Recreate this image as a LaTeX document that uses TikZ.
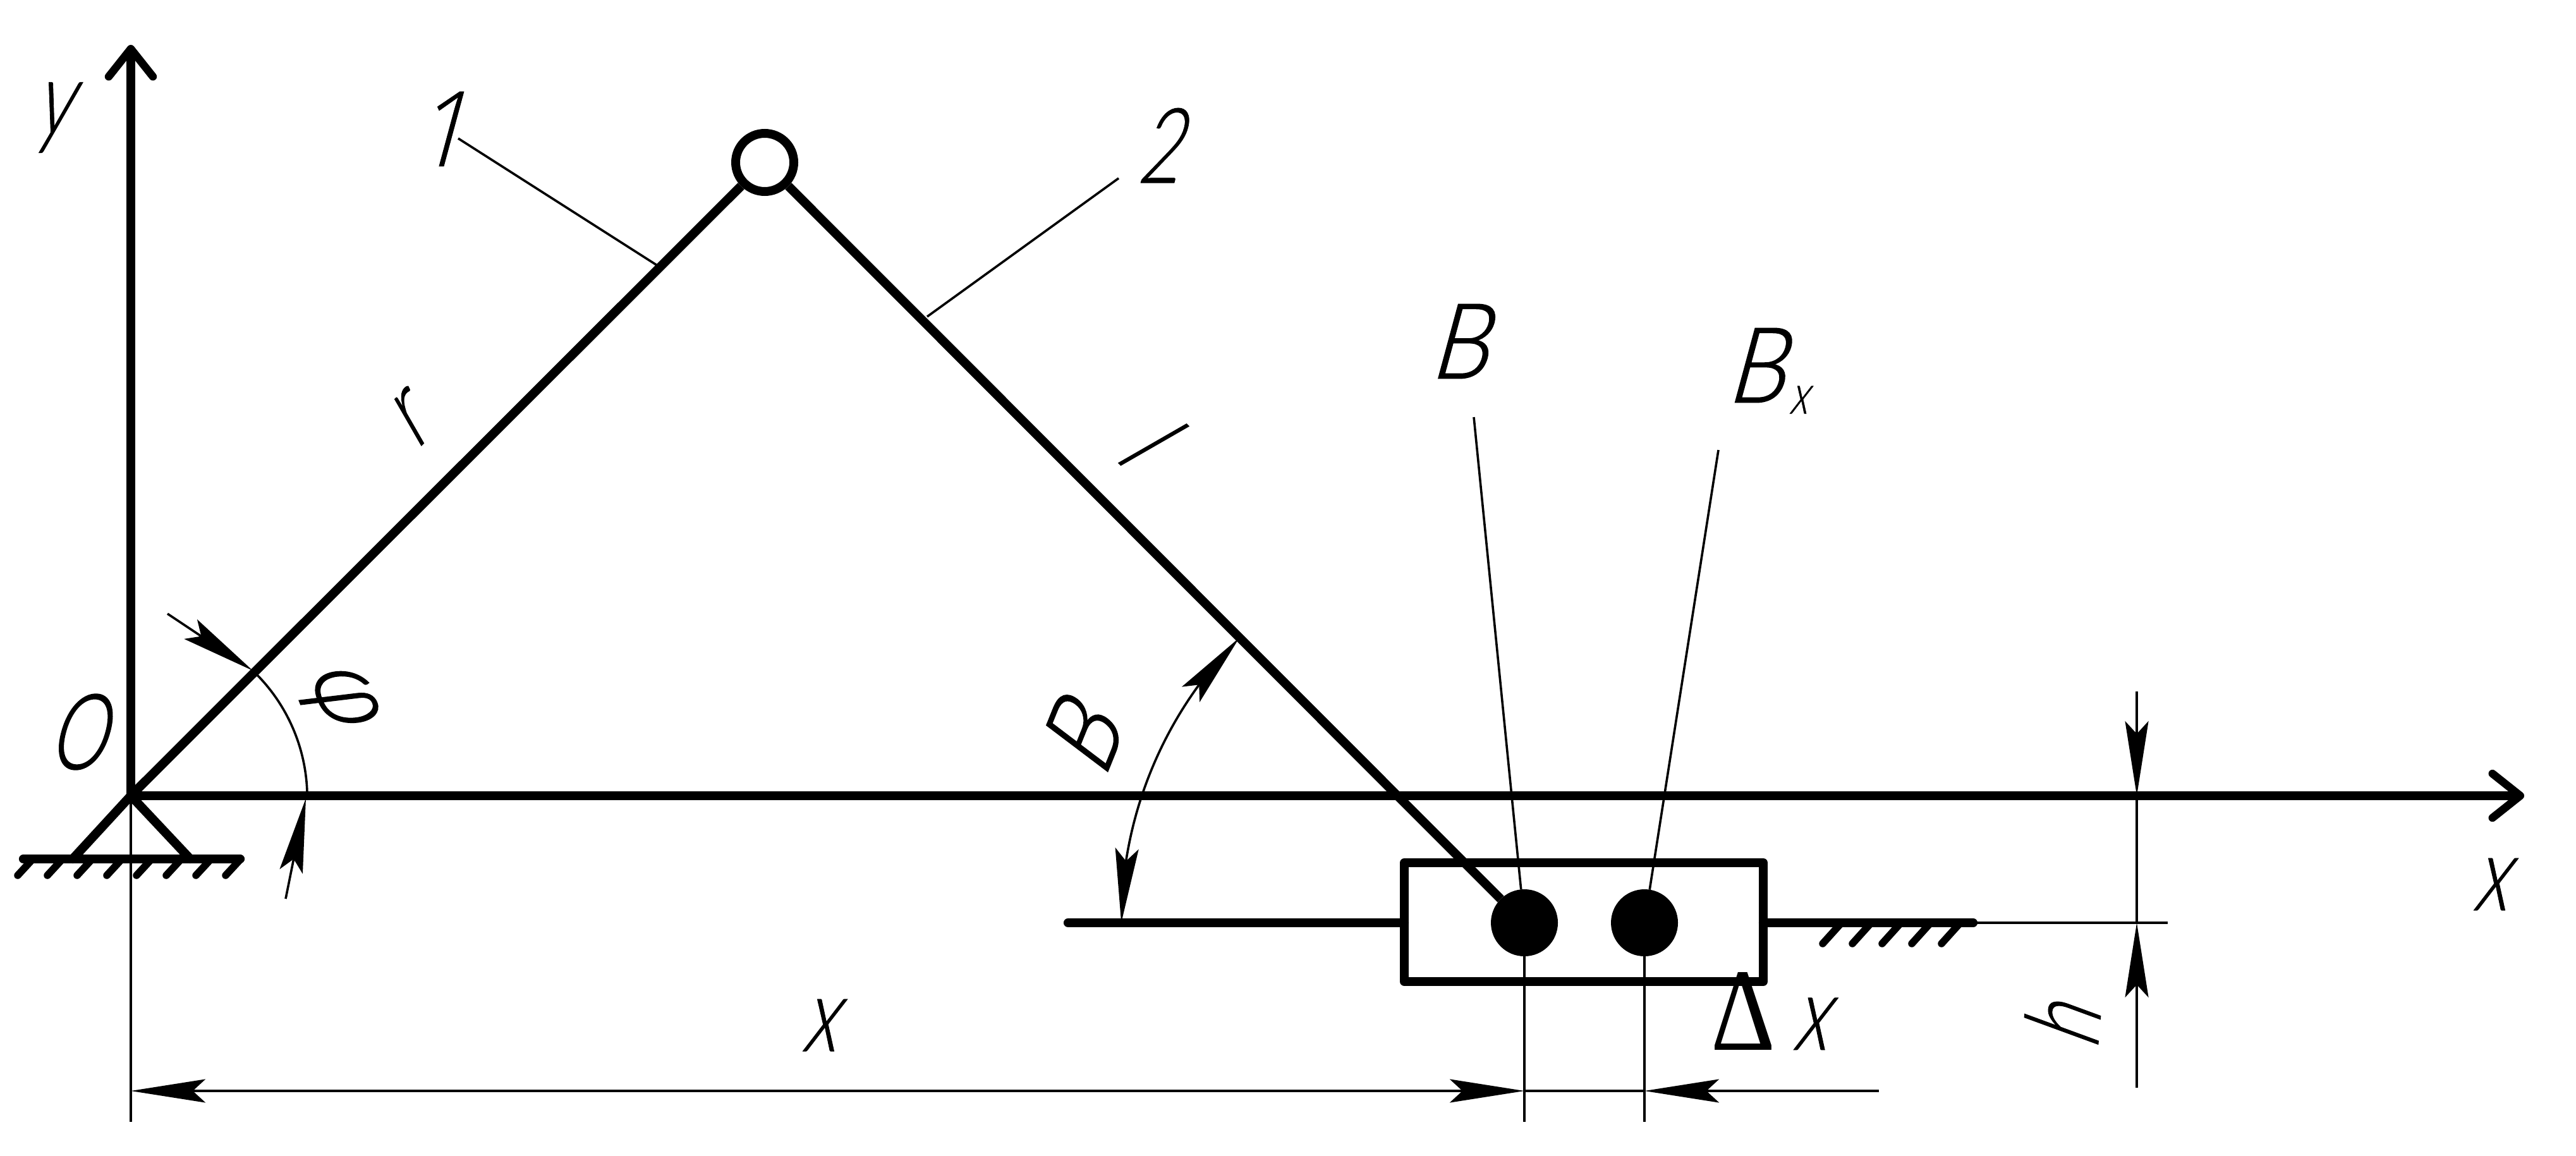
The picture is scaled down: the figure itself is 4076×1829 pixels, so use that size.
\documentclass[tikz,border=0pt]{standalone}
\usepackage{fontspec}
\newfontfamily\gostfont{Lato Light}[FakeSlant=0.27,FakeStretch=0.7,FakeBold=0.5]
\newfontfamily\gostwide{Lato Light}[FakeSlant=0.27,FakeStretch=0.88,FakeBold=1.2]
\newfontfamily\gostround{Lato Light}[FakeSlant=0.27,FakeStretch=0.68,FakeBold=1.2]
\newfontfamily\gostone{Open Sans Light}[FakeSlant=0.27,FakeStretch=0.9,FakeBold=0.5]
\newfontfamily\gostup{Liberation Serif}[FakeStretch=0.85]
\usepackage{xcolor}
\usepackage{tikz}
\usetikzlibrary{arrows.meta,bending,positioning,calc}
\tikzset{
  heavy/.style={line width=1.42mm, line cap=round, line join=round},
  thinline/.style={line width=0.36mm},
  hatch/.style={line width=1.15mm, line cap=round},
  gostdim/.style={thinline, -{Stealth[length=11.8mm, width=3.7mm, inset=2mm]}},
  gostboth/.style={thinline, {Stealth[length=11.8mm, width=3.7mm, inset=2mm]}-{Stealth[length=11.8mm, width=3.7mm, inset=2mm]}},
  axisline/.style={heavy, -{Straight Barb[length=4.4mm, width=7mm, line width=1.25mm, round]}},
  gostlabel/.style={inner sep=0pt, font=\gostfont\fontsize{47pt}{50pt}\selectfont},
  hingepin/.style={circle, draw, line width=1.4mm, fill=white, minimum size=9.2mm, inner sep=0pt, outer sep=0.7mm},
  blackpin/.style={circle, fill=black, minimum size=10.6mm, inner sep=0pt, outer sep=0pt},
  sliderbox/.style={draw, line width=1.4mm, line join=round, minimum width=56.8mm, minimum height=18.8mm, inner sep=0pt, outer sep=0pt},
}
\begin{document}
\begin{tikzpicture}[x=0.1mm,y=0.1mm]
  \useasboundingbox (0,0) rectangle (4076,-1829);

  % Main points
  \coordinate (orig) at (207,-1259);
  \node[blackpin] (pinB)  at (2412,-1460) {};
  \node[blackpin] (pinBx) at (2602,-1460) {};
  \node[sliderbox] (slider) at (2506,-1459) {};

  % Axes
  \coordinate (ytip) at (207,-71);
  \coordinate (xtip) at (3994,-1259);
  \draw[axisline] (orig) -- (ytip);
  \draw[axisline] (orig) -- (xtip);

  % Links
  \node[hingepin] (pinA) at (1210,-257) {};
  \draw[heavy, line cap=butt] (orig) -- (pinA);
  \draw[heavy, line cap=butt] (pinA) -- (pinB);

  % Fixed support at the origin
  \coordinate (baseL) at (37,-1359);
  \coordinate (baseR) at (380,-1359);
  \coordinate (legL) at (115,-1359);
  \coordinate (legR) at (301,-1359);
  \draw[heavy] (baseL) -- (baseR);
  \draw[heavy] (legL) -- (orig) -- (legR);
  \foreach \hx in {28,75,...,357}
    \draw[hatch] (\hx,-1385) -- (\hx+24,-1359);

  % Rail of the slider
  \coordinate (railL) at (1690,-1460);
  \coordinate (railR) at (3122,-1460);
  \draw[heavy] (railL) -- (railL -| slider.west);
  \draw[heavy] (railR) -- (railR -| slider.east);
  \foreach \hx in {2884,2931,...,3075}
    \draw[hatch] (\hx,-1493) -- (\hx+28,-1462);

  % Leaders
  \coordinate (lead1a) at (725,-219);
  \coordinate (lead1b) at (1040,-420);
  \coordinate (lead2a) at (1770,-282);
  \coordinate (lead2b) at (1467,-501);
  \coordinate (leadB) at (2332,-660);
  \coordinate (leadBx) at (2719,-712);
  \draw[thinline] (lead1a) -- (lead1b);
  \draw[thinline] (lead2a) -- (lead2b);
  \draw[thinline] (leadB) -- (pinB);
  \draw[thinline] (leadBx) -- (pinBx);

  % Angle phi
  \coordinate (phiA) at (405,-1066);
  \coordinate (phiT1) at (265,-971);
  \coordinate (phiH1) at (400,-1061);
  \coordinate (phiT2) at (452,-1422);
  \coordinate (phiH2) at (484,-1263);
  \draw[thinline] (phiA) arc[start angle=45, end angle=0, radius=277];
  \draw[gostdim] (phiT1) -- (phiH1);
  \draw[gostdim] (phiT2) -- (phiH2);

  % Angle beta
  \coordinate (betaA) at (1961,-1009);
  \draw[gostboth] (betaA) arc[start angle=135, end angle=180, radius=638];

  % Dimension x and delta x
  \coordinate (extO) at (207,-1775);
  \coordinate (extB) at (2412,-1775);
  \coordinate (extBx) at (2602,-1775);
  \coordinate (dimO) at (207,-1726);
  \coordinate (dimB) at (2412,-1726);
  \coordinate (dimBx) at (2602,-1726);
  \coordinate (dimEnd) at (2973,-1726);
  \draw[thinline] (orig) -- (extO);
  \draw[thinline] (pinB) -- (extB);
  \draw[thinline] (pinBx) -- (extBx);
  \draw[gostboth] (dimO) -- (dimB);
  \draw[thinline] (dimB) -- (dimBx);
  \draw[gostdim] (dimEnd) -- (dimBx);

  % Dimension h
  \coordinate (hTop) at (3381,-1094);
  \coordinate (hA) at (3381,-1259);
  \coordinate (hB) at (3381,-1460);
  \coordinate (hBot) at (3381,-1721);
  \coordinate (hExt) at (3430,-1460);
  \draw[thinline] (railR) -- (hExt);
  \draw[thinline] (hA) -- (hB);
  \draw[gostdim] (hTop) -- (hA);
  \draw[gostdim] (hBot) -- (hB);

  % Labels
  \node[gostlabel] (lbly) at (82,-186) {y};
  \node[gostlabel] (lblX) at (3939,-1399) {x};
  \node[gostlabel] (lblO) at (120,-1158) {\gostround O};
  \node[gostlabel] (lbl1) at (695,-204) {\gostone 1};
  \node[gostlabel] (lbl2) at (1832,-230) {2};
  \node[gostlabel, rotate=45] (lblr) at (645,-668) {r};
  \node[gostlabel, rotate=-45] (lbll) at (1814,-692) {l};
  \node[gostlabel, rotate=-68] (lblphi) at (530,-1098) {\gostwide φ};
  \node[gostlabel, rotate=68] (lblbeta) at (1710,-1170) {\gostwide B};
  \node[gostlabel] (lblB) at (2307,-540) {\gostwide B};
  \node[gostlabel, anchor=west] (lblBx) at (2730,-587) {\gostwide B\hspace{0.8mm}\gostfont\raisebox{-1.8mm}{\fontsize{25pt}{27pt}\selectfont x}};
  \node[gostlabel] (lbldim) at (1295,-1622) {x};
  \node[gostlabel, anchor=base west] (lbldx) at (2707,-1661) {{\gostup\fontsize{53pt}{55pt}\selectfont Δ}\hspace{2.6mm}x};
  \node[gostlabel, rotate=85] (lblh) at (3262,-1625) {h};
\end{tikzpicture}
\end{document}
